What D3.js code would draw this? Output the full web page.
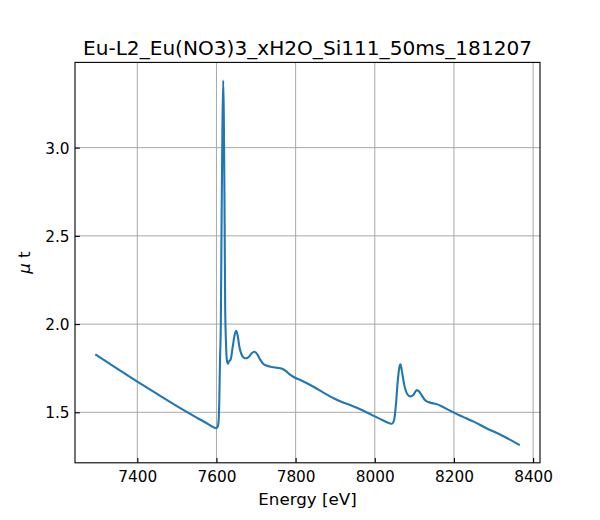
<!DOCTYPE html>
<html>
<head>
<meta charset="utf-8">
<script src="https://cdn.jsdelivr.net/npm/d3@7"></script>
<style>
  body { margin: 0; background: #fff; }
  svg { font-family: "DejaVu Sans", sans-serif; }
</style>
</head>
<body>
<svg id="chart" width="600" height="520"></svg>
<script>
const title = "Eu-L2_Eu(NO3)3_xH2O_Si111_50ms_181207";
const xLabel = "Energy [eV]";
const xTicks = [7400, 7600, 7800, 8000, 8200, 8400];
const yTicks = [1.5, 2.0, 2.5, 3.0];

const energy = [
  7296, 7350, 7400, 7450, 7500, 7550, 7580, 7592, 7599, 7603, 7605, 7607, 7609, 7611, 7613, 7615, 7617,
  7618.5, 7620, 7622, 7624, 7626, 7629, 7631, 7636, 7641, 7646, 7650, 7654, 7658, 7663, 7669, 7675,
  7682, 7689, 7696, 7703, 7710, 7718, 7726, 7740, 7755, 7764, 7775, 7785, 7795, 7812, 7845, 7870,
  7896, 7920, 7938, 7960, 7980, 8000, 8020, 8035, 8043, 8048, 8051, 8054, 8057, 8060, 8063, 8065,
  8068, 8071, 8074, 8078, 8083, 8090, 8098, 8106, 8112, 8119, 8126, 8135, 8145, 8158, 8170, 8185,
  8200, 8215, 8231, 8250, 8282, 8320, 8364
];
const mu = [
  1.825, 1.746, 1.674, 1.604, 1.535, 1.470, 1.432, 1.416, 1.410, 1.418, 1.440, 1.550, 1.800, 2.000, 2.600, 3.100, 3.380,
  3.200, 2.800, 2.100, 1.900, 1.800, 1.775, 1.787, 1.800, 1.870, 1.940, 1.962, 1.930, 1.870, 1.830, 1.810, 1.806,
  1.815, 1.835, 1.843, 1.830, 1.800, 1.775, 1.765, 1.757, 1.752, 1.748, 1.735, 1.715, 1.700, 1.683, 1.645, 1.612,
  1.580, 1.556, 1.542, 1.520, 1.499, 1.477, 1.455, 1.440, 1.435, 1.450, 1.490, 1.560, 1.650, 1.720, 1.765, 1.772,
  1.740, 1.700, 1.660, 1.625, 1.600, 1.590, 1.600, 1.626, 1.618, 1.595, 1.571, 1.558, 1.552, 1.545, 1.533, 1.515,
  1.498, 1.482, 1.466, 1.447, 1.410, 1.370, 1.317
];

const W = 600, H = 520;
const m = { left: 75, right: 540, top: 62.4, bottom: 462.8 };
const svg = d3.select("#chart");

function padded(ext) { const d = ext[1] - ext[0]; return [ext[0] - 0.05 * d, ext[1] + 0.05 * d]; }
const x = d3.scaleLinear().domain(padded(d3.extent(energy))).range([m.left, m.right]);
const y = d3.scaleLinear().domain(padded(d3.extent(mu))).range([m.bottom, m.top]);

const data = energy.map((e, i) => [e, mu[i]]);

// grid
const grid = svg.append("g").attr("stroke", "#a8a8a8").attr("stroke-width", 1);
xTicks.forEach(t => grid.append("line").attr("x1", x(t)).attr("x2", x(t)).attr("y1", m.top).attr("y2", m.bottom));
yTicks.forEach(t => grid.append("line").attr("y1", y(t)).attr("y2", y(t)).attr("x1", m.left).attr("x2", m.right));

// line
svg.append("clipPath").attr("id", "clip").append("rect")
  .attr("x", m.left).attr("y", m.top).attr("width", m.right - m.left).attr("height", m.bottom - m.top);
svg.append("path").datum(data)
  .attr("clip-path", "url(#clip)")
  .attr("fill", "none").attr("stroke", "#1f77b4").attr("stroke-width", 2.1)
  .attr("stroke-linejoin", "round").attr("stroke-linecap", "square")
  .attr("d", d3.line().x(d => x(d[0])).y(d => y(d[1])).curve(d3.curveMonotoneX));

// axes (ticks inward)
const xAxis = d3.axisBottom(x).tickValues(xTicks).tickSizeInner(-4.9).tickSizeOuter(0).tickFormat(d3.format("d"));
const gx = svg.append("g").attr("transform", `translate(0,${m.bottom})`).call(xAxis);
const yAxis = d3.axisLeft(y).tickValues(yTicks).tickSizeInner(-4.9).tickSizeOuter(0).tickFormat(d3.format(".1f"));
const gy = svg.append("g").attr("transform", `translate(${m.left},0)`).call(yAxis);
[gx, gy].forEach(g => {
  g.select(".domain").remove();
  g.selectAll(".tick line").attr("stroke", "#000").attr("stroke-width", 1.1);
  g.selectAll(".tick text").attr("fill", "#000").attr("font-size", "15.3px").attr("font-family", "DejaVu Sans");
});
gx.selectAll(".tick text").attr("dy", null).attr("y", 19);
gy.selectAll(".tick text").attr("dy", "0.36em").attr("x", -5.5);

// frame
svg.append("rect").attr("x", m.left).attr("y", m.top).attr("width", m.right - m.left).attr("height", m.bottom - m.top)
  .attr("fill", "none").attr("stroke", "#000").attr("stroke-width", 1.1);

// title & labels
svg.append("text").attr("x", (m.left + m.right) / 2).attr("y", 55).attr("text-anchor", "middle")
  .attr("font-size", "20.1px").attr("fill", "#000").text(title);
svg.append("text").attr("x", (m.left + m.right) / 2).attr("y", 505).attr("text-anchor", "middle")
  .attr("font-size", "16.7px").attr("fill", "#000").text(xLabel);
const yl = svg.append("text").attr("transform", `translate(30,${(m.top + m.bottom) / 2}) rotate(-90)`)
  .attr("text-anchor", "middle").attr("font-size", "16.7px").attr("fill", "#000");
yl.append("tspan").attr("font-style", "italic").text("μ");
yl.append("tspan").text(" t");
</script>
</body>
</html>
